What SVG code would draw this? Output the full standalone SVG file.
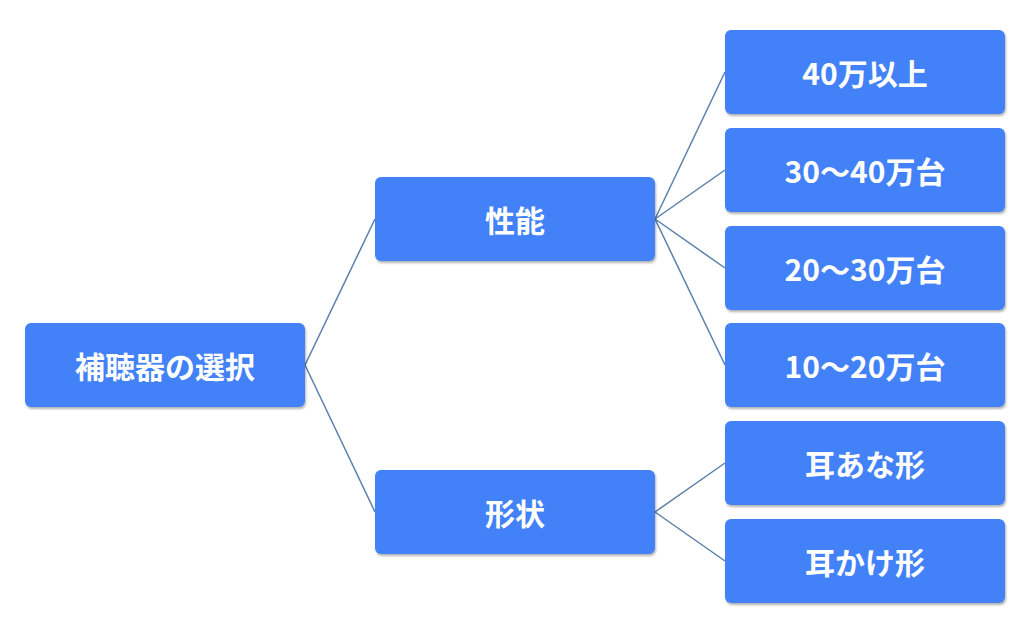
<svg xmlns="http://www.w3.org/2000/svg" width="1030" height="630" viewBox="0 0 1030 630">
<defs>
<filter id="sh" x="-5%" y="-5%" width="115%" height="125%"><feDropShadow dx="1" dy="2" stdDeviation="1.2" flood-color="#000" flood-opacity="0.3"/></filter>
</defs>
<style>
.n rect{fill:#4281f8;filter:url(#sh)}
.n text{fill:#fff;font-family:"Noto Sans CJK JP","Liberation Sans",sans-serif;font-size:30px;font-weight:bold;text-anchor:middle;dominant-baseline:central}
.c line{stroke:#5b80a9;stroke-width:1.5}
</style>
<rect width="1030" height="630" fill="#fff"/>
<g class="c">
<line x1="305" y1="365" x2="375" y2="219"/>
<line x1="305" y1="365" x2="375" y2="512"/>
<line x1="655" y1="219" x2="725" y2="72"/>
<line x1="655" y1="219" x2="725" y2="170"/>
<line x1="655" y1="219" x2="725" y2="268"/>
<line x1="655" y1="219" x2="725" y2="365"/>
<line x1="655" y1="512" x2="725" y2="463"/>
<line x1="655" y1="512" x2="725" y2="561"/>
</g>
<g id="root" class="n"><rect x="25" y="323" width="280" height="84" rx="6"/><text x="165" y="365">補聴器の選択</text></g>
<g id="seino" class="n"><rect x="375" y="177" width="280" height="84" rx="6"/><text x="515" y="219">性能</text></g>
<g id="keijo" class="n"><rect x="375" y="470" width="280" height="84" rx="6"/><text x="515" y="512">形状</text></g>
<g id="p1" class="n"><rect x="725" y="30" width="280" height="84" rx="6"/><text x="865" y="72">40万以上</text></g>
<g id="p2" class="n"><rect x="725" y="128" width="280" height="84" rx="6"/><text x="865" y="170">30〜40万台</text></g>
<g id="p3" class="n"><rect x="725" y="226" width="280" height="84" rx="6"/><text x="865" y="268">20〜30万台</text></g>
<g id="p4" class="n"><rect x="725" y="323" width="280" height="84" rx="6"/><text x="865" y="365">10〜20万台</text></g>
<g id="s1" class="n"><rect x="725" y="421" width="280" height="84" rx="6"/><text x="865" y="463">耳あな形</text></g>
<g id="s2" class="n"><rect x="725" y="519" width="280" height="84" rx="6"/><text x="865" y="561">耳かけ形</text></g>
</svg>
